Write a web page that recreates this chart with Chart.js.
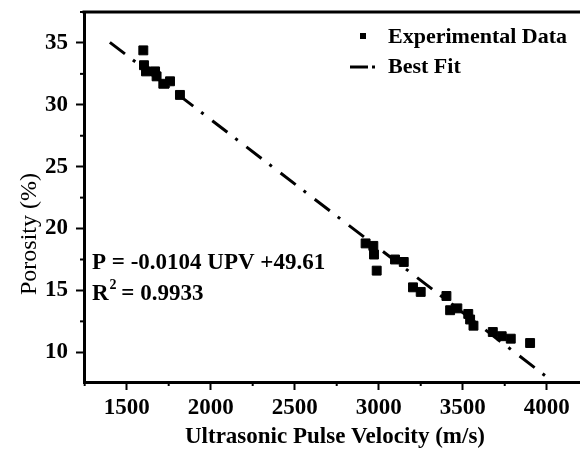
<!DOCTYPE html>
<html>
<head>
<meta charset="utf-8">
<script src="https://cdn.jsdelivr.net/npm/chart.js@4.4.1/dist/chart.umd.min.js"></script>
<style>
  html, body { margin: 0; padding: 0; background: #fff; }
  #wrap { width: 580px; height: 454px; }
</style>
</head>
<body>
<div id="wrap"><canvas id="porosityChart"></canvas></div>
<script>
// measured UPV (m/s) vs porosity (%)
const upv = [1599, 1603, 1615, 1669, 1678, 1718, 1758, 1817,
    2922, 2968, 2972, 2988, 3097, 3149, 3204, 3250, 3403, 3425,
    3468, 3533, 3544, 3564, 3679, 3732, 3786, 3901];
const porosity = [34.4, 33.2, 32.7, 32.7, 32.3, 31.7, 31.9, 30.8,
    18.8, 18.6, 17.9, 16.6, 17.5, 17.3, 15.25, 14.88, 14.55, 13.4,
    13.55, 13.1, 12.65, 12.15, 11.64, 11.3, 11.1, 10.75];

// best fit line end points
const fitX = [1400, 4060];
const fitY = [35.05, 7.39];

const xTicks = [1500, 2000, 2500, 3000, 3500, 4000];
const yTicks = [10, 15, 20, 25, 30, 35];

const serif = '"Liberation Serif", "Times New Roman", serif';

const points = upv.map((v, i) => ({ x: v, y: porosity[i] }));
const fitLine = fitX.map((v, i) => ({ x: v, y: fitY[i] }));

// extra bits: top frame line, minor ticks, titles, legend, equation
const decorations = {
    id: 'decorations',
    afterDraw(chart) {
        const ctx = chart.ctx;
        const area = chart.chartArea;
        const xs = chart.scales.x;
        const ys = chart.scales.y;
        ctx.save();
        ctx.strokeStyle = '#000';
        ctx.fillStyle = '#000';

        // top line
        ctx.lineWidth = 3;
        ctx.beginPath();
        ctx.moveTo(area.left - 1.5, area.top);
        ctx.lineTo(area.right, area.top);
        ctx.stroke();

        // minor ticks
        ctx.lineWidth = 2;
        for (let v = 1250; v <= 4250; v += 500) {
            const px = xs.getPixelForValue(v);
            if (px < area.left || px > area.right) continue;
            ctx.beginPath();
            ctx.moveTo(px, area.bottom);
            ctx.lineTo(px, area.bottom + 4);
            ctx.stroke();
        }
        for (let v = 12.5; v <= 37.5; v += 5) {
            const py = ys.getPixelForValue(v);
            if (py < area.top || py > area.bottom) continue;
            ctx.beginPath();
            ctx.moveTo(area.left, py);
            ctx.lineTo(area.left - 4, py);
            ctx.stroke();
        }

        // axis titles
        ctx.textAlign = 'center';
        ctx.textBaseline = 'middle';
        ctx.font = 'bold 23px ' + serif;
        ctx.fillText('Ultrasonic Pulse Velocity (m/s)', 335, 437);
        ctx.save();
        ctx.translate(30, 234);
        ctx.rotate(-Math.PI / 2);
        ctx.font = '24px ' + serif;
        ctx.fillText('Porosity (%)', 0, 0);
        ctx.restore();

        // legend
        ctx.textAlign = 'left';
        ctx.font = 'bold 22px ' + serif;
        ctx.fillRect(360, 33, 6, 6);
        ctx.fillText('Experimental Data', 388, 37);
        ctx.lineWidth = 3;
        ctx.beginPath();
        ctx.moveTo(350, 67);
        ctx.lineTo(368, 67);
        ctx.stroke();
        ctx.fillRect(372, 65.5, 3, 3);
        ctx.fillText('Best Fit', 388, 67);

        // equation
        ctx.font = 'bold 23px ' + serif;
        ctx.fillText('P = -0.0104 UPV +49.61', 92, 263);
        ctx.fillText('R', 92, 294);
        const rw = ctx.measureText('R').width;
        ctx.font = 'bold 14px ' + serif;
        ctx.fillText('2', 92 + rw + 1, 285);
        ctx.font = 'bold 23px ' + serif;
        ctx.fillText(' = 0.9933', 92 + rw + 7, 294);
        ctx.restore();
    }
};

const ctx = document.getElementById('porosityChart').getContext('2d');
new Chart(ctx, {
    type: 'scatter',
    data: {
        datasets: [{
            label: 'Experimental Data',
            data: points,
            pointStyle: 'rect',
            pointRadius: 6.3,
            backgroundColor: '#000',
            borderColor: '#000',
            borderWidth: 1
        }, {
            label: 'Best Fit',
            type: 'line',
            data: fitLine,
            showLine: true,
            pointRadius: 0,
            borderColor: '#000',
            borderWidth: 3,
            borderDash: [19, 10, 3, 11],
            fill: false
        }]
    },
    options: {
        responsive: true,
        maintainAspectRatio: false,
        animation: false,
        layout: { autoPadding: false, padding: { top: 12, left: 0, right: 0, bottom: 0 } },
        plugins: {
            legend: { display: false },
            tooltip: { enabled: false }
        },
        scales: {
            x: {
                type: 'linear',
                min: 1246,
                max: 4198,
                afterBuildTicks: s => { s.ticks = xTicks.map(v => ({ value: v })); },
                afterFit: s => { s.height = 72; s.paddingLeft = 0; s.paddingRight = 0; },
                grid: { drawOnChartArea: false, color: '#000', tickLength: 8, tickWidth: 2 },
                border: { color: '#000', width: 3 },
                ticks: {
                    color: '#000',
                    padding: 4,
                    maxRotation: 0,
                    callback: v => String(v),
                    font: { family: serif, size: 23, weight: 'bold' }
                }
            },
            y: {
                min: 7.6,
                max: 37.5,
                afterBuildTicks: s => { s.ticks = yTicks.map(v => ({ value: v })); },
                afterFit: s => { s.width = 84; s.paddingTop = 0; s.paddingBottom = 0; },
                grid: { drawOnChartArea: false, color: '#000', tickLength: 8, tickWidth: 2 },
                border: { color: '#000', width: 3 },
                ticks: {
                    color: '#000',
                    padding: 8,
                    callback: v => String(v),
                    font: { family: serif, size: 23, weight: 'bold' }
                }
            }
        }
    },
    plugins: [decorations]
});
</script>
</body>
</html>
